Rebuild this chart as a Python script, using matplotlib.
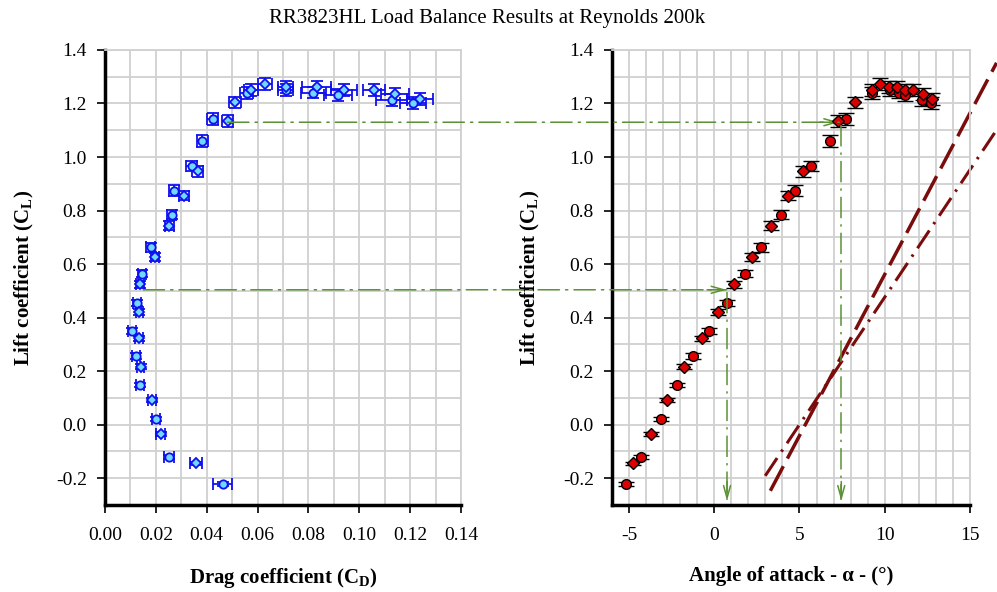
import matplotlib
matplotlib.use("Agg")
import matplotlib.pyplot as plt
from matplotlib.patches import ConnectionPatch
from matplotlib.ticker import MultipleLocator

plt.rcParams['font.family'] = ['Liberation Serif', 'DejaVu Serif']
plt.rcParams['mathtext.default'] = 'regular'
plt.rcParams['axes.unicode_minus'] = False

# ---------------- data ----------------
# series A (circle markers)
alpha_a = [-5.17, -4.29, -3.11, -2.18, -1.24, -0.31, 0.73, 1.81, 2.75, 3.89, 4.72, 5.68, 6.78, 7.75,
           9.24, 10.31, 10.82, 11.21, 12.19, 12.72]
cd_a = [0.0463, 0.0252, 0.0199, 0.0138, 0.0121, 0.0107, 0.0125, 0.0144, 0.0180, 0.0262, 0.0271, 0.0341,
        0.0383, 0.0423, 0.0557, 0.0711, 0.0819, 0.0918, 0.1127, 0.1212]
cl_a = [-0.222, -0.121, 0.020, 0.148, 0.256, 0.350, 0.454, 0.564, 0.663, 0.785, 0.874, 0.966, 1.060,
        1.143, 1.240, 1.250, 1.241, 1.232, 1.214, 1.203]
# series B (diamond markers)
alpha_b = [-4.74, -3.70, -2.77, -1.77, -0.73, 0.24, 1.18, 2.24, 3.35, 4.33, 5.23, 7.24, 8.26, 9.24,
           9.72, 10.27, 10.70, 11.19, 11.68, 12.23, 12.78]
cd_b = [0.0358, 0.0219, 0.0184, 0.0140, 0.0134, 0.0135, 0.0138, 0.0197, 0.0253, 0.0312, 0.0364, 0.0482,
        0.0511, 0.0574, 0.0629, 0.0711, 0.0832, 0.0940, 0.1058, 0.1140, 0.1239]
cl_b = [-0.145, -0.034, 0.091, 0.217, 0.323, 0.421, 0.524, 0.627, 0.744, 0.856, 0.947, 1.135, 1.205,
        1.250, 1.272, 1.261, 1.263, 1.251, 1.249, 1.235, 1.217]

# uncertainties
cd_err_a = [0.0037, 0.0018, 0.0016, 0.0015, 0.0015, 0.0015, 0.0016, 0.0016, 0.0017, 0.0019, 0.0020,
            0.0021, 0.0022, 0.0023, 0.0025, 0.0030, 0.0050, 0.0055, 0.0060, 0.0050]
cd_err_b = [0.0023, 0.0017, 0.0016, 0.0015, 0.0015, 0.0015, 0.0016, 0.0017, 0.0018, 0.0020, 0.0021,
            0.0023, 0.0024, 0.0026, 0.0028, 0.0030, 0.0056, 0.0050, 0.0043, 0.0055, 0.0050]
cl_err_a = [0.006, 0.007, 0.008, 0.009, 0.010, 0.011, 0.012, 0.014, 0.016, 0.018, 0.020, 0.020, 0.021,
            0.022, 0.022, 0.022, 0.022, 0.022, 0.022, 0.022]
cl_err_b = [0.006, 0.007, 0.008, 0.009, 0.010, 0.011, 0.012, 0.014, 0.016, 0.018, 0.020, 0.021, 0.021,
            0.022, 0.022, 0.022, 0.022, 0.022, 0.022, 0.022, 0.022]

# theoretical lift-slope lines (alpha, CL endpoints)
line1_alpha = [3.29, 16.56]
line1_cl = [-0.247, 1.352]
line2_alpha = [2.99, 16.56]
line2_cl = [-0.191, 1.101]

# read-off guides: (CD start, CL, alpha arrow tip, alpha vertical)
guide_cd = [0.0482, 0.0150]
guide_cl = [1.130, 0.504]
guide_alpha_tip = [7.33, 0.72]
guide_alpha_vert = [7.45, 0.75]

xticks_left = [0.00, 0.02, 0.04, 0.06, 0.08, 0.10, 0.12, 0.14]
xticks_right = [-5, 0, 5, 10, 15]
yticks = [-0.2, 0.0, 0.2, 0.4, 0.6, 0.8, 1.0, 1.2, 1.4]

# ---------------- figure ----------------
fig = plt.figure(figsize=(9.97, 5.92), dpi=100)
ax1 = fig.add_axes([0.1053, 0.1470, 0.3571, 0.7686])
ax2 = fig.add_axes([0.6138, 0.1470, 0.3591, 0.7686])

grid_c = '#d0d0d0'
green = '#5b9134'
darkred = '#7a0c0c'

for ax in (ax1, ax2):
    ax.set_ylim(-0.3, 1.4)
    ax.set_yticks(yticks)
    ax.set_yticklabels([f"{v:.1f}" for v in yticks])
    ax.yaxis.set_minor_locator(MultipleLocator(0.1))
    ax.grid(True, which='both', color=grid_c, lw=1.3, zorder=0)
    ax.set_axisbelow(True)
    for s in ('top', 'right'):
        ax.spines[s].set_color(grid_c)
        ax.spines[s].set_linewidth(1.3)
    for s in ('left', 'bottom'):
        ax.spines[s].set_color('black')
        ax.spines[s].set_linewidth(2.5)
    ax.tick_params(which='major', direction='out', length=6, width=1.2, labelsize=14, pad=7)
    ax.tick_params(which='minor', length=0)
    ax.tick_params(axis='x', pad=10)

ax1.set_xlim(0, 0.14)
ax1.set_xticks(xticks_left)
ax1.set_xticklabels([f"{v:.2f}" for v in xticks_left])
ax1.xaxis.set_minor_locator(MultipleLocator(0.01))

ax2.set_xlim(-6, 15)
ax2.set_xticks(xticks_right)
ax2.xaxis.set_minor_locator(MultipleLocator(1))

# left: drag polar
blue = '#1010ee'
ax1.errorbar(cd_a, cl_a, xerr=cd_err_a, yerr=cl_err_a, fmt='o', ms=6, mfc='#6fd8ff', mec=blue, mew=1.3,
             ecolor=blue, elinewidth=1.3, capsize=4, capthick=1.3, zorder=3)
ax1.errorbar(cd_b, cl_b, xerr=cd_err_b, yerr=cl_err_b, fmt='D', ms=5.5, mfc='#6fd8ff', mec=blue, mew=1.3,
             ecolor=blue, elinewidth=1.3, capsize=4, capthick=1.3, zorder=3)

# right: lift curve
ax2.errorbar(alpha_a, cl_a, yerr=cl_err_a, fmt='o', ms=7, mfc='#dd0000', mec='black', mew=1.0,
             ecolor='black', elinewidth=1.2, capsize=6, capthick=1.2, zorder=3)
ax2.errorbar(alpha_b, cl_b, yerr=cl_err_b, fmt='D', ms=6, mfc='#dd0000', mec='black', mew=1.0,
             ecolor='black', elinewidth=1.2, capsize=6, capthick=1.2, zorder=3)

ax2.plot(line1_alpha, line1_cl, color=darkred, lw=2.5, ls=(0, (8, 2.5)), clip_on=False, zorder=2)
ax2.plot(line2_alpha, line2_cl, color=darkred, lw=2.2, ls=(0, (7, 2.5, 0.8, 2.5)), clip_on=False, zorder=2)

guide_ls = (0, (14, 4, 1.5, 4))
for cd0, cl0, at, av in zip(guide_cd, guide_cl, guide_alpha_tip, guide_alpha_vert):
    con = ConnectionPatch(xyA=(cd0, cl0), coordsA=ax1.transData, xyB=(at, cl0), coordsB=ax2.transData,
                          color=green, lw=1.1, linestyle=guide_ls, zorder=4)
    fig.add_artist(con)
    ax2.annotate('', xy=(at, cl0), xytext=(-14, 0), textcoords='offset points',
                 arrowprops=dict(arrowstyle='->,head_length=0.9,head_width=0.25', color=green, lw=1.1,
                                 shrinkA=0, shrinkB=0), annotation_clip=False)
    ax2.plot([av, av], [cl0 - 0.01, -0.28], color=green, lw=1.1, ls=guide_ls, zorder=4)
    ax2.annotate('', xy=(av, -0.285), xytext=(0, 14), textcoords='offset points',
                 arrowprops=dict(arrowstyle='->,head_length=0.9,head_width=0.25', color=green, lw=1.1,
                                 shrinkA=0, shrinkB=0), annotation_clip=False)

lab_kw = dict(fontsize=15, fontweight='bold')
ax1.set_xlabel('Drag coefficient (C$_{D}$)', labelpad=16, **lab_kw)
ax1.set_ylabel('Lift coefficient (C$_{L}$)', labelpad=14, **lab_kw)
ax2.set_xlabel('Angle of attack - α - (°)', labelpad=16, **lab_kw)
ax2.set_ylabel('Lift coefficient (C$_{L}$)', labelpad=15, **lab_kw)

fig.text(0.489, 0.968, 'RR3823HL Load Balance Results at Reynolds 200k', ha='center', va='center', fontsize=15)

fig.savefig('out.png', dpi=100)
